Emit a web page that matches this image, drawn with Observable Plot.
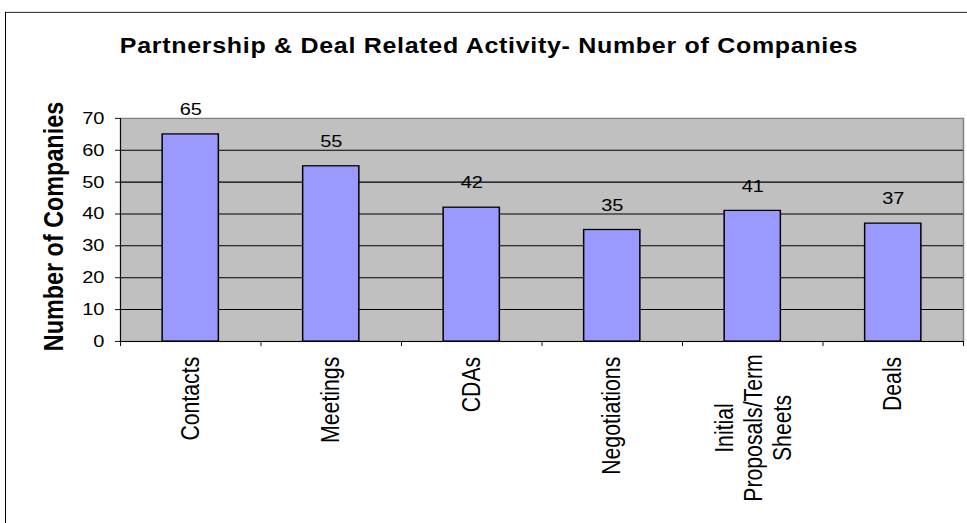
<!DOCTYPE html>
<html>
<head>
<meta charset="utf-8">
<script src="https://cdn.jsdelivr.net/npm/d3@7"></script>
<script src="https://cdn.jsdelivr.net/npm/@observablehq/plot@0.6"></script>
<style>
  html, body { margin: 0; padding: 0; background: #fff; overflow: hidden; }
  #wrap { position: absolute; left: 0; top: 0; width: 967px; height: 616px; transform: scaleY(0.85); transform-origin: 0 0; }
  #border { position: absolute; left: 5px; top: 14px; width: 1000px; height: 700px; border-left: 1px solid #000; border-top: 1.3px solid #000; box-sizing: border-box; }
  #title { position: absolute; left: 0; top: 38px; width: 978px; text-align: center; font: bold 25px "Liberation Sans", Arial, sans-serif; letter-spacing: 0.7px; line-height: 30px; color: #000; }
  #chart { position: absolute; left: 0; top: 100px; }
</style>
</head>
<body>
<div id="wrap">
  <div id="border"></div>
  <div id="title">Partnership &amp; Deal Related Activity- Number of Companies</div>
  <div id="chart"></div>
</div>
<script>
const categories = ["Contacts", "Meetings", "CDAs", "Negotiations", "Initial\nProposals/Term\nSheets", "Deals"];
const values = [65, 55, 42, 35, 41, 37];
const yTicks = [0, 10, 20, 30, 40, 50, 60, 70];
const yTitle = "Number of Companies";

const data = categories.map((c, i) => ({ i, category: c, value: values[i] }));

const labelFont = "25px 'Liberation Sans', Arial, sans-serif";
const ctx = document.createElement("canvas").getContext("2d");
ctx.font = labelFont;
const maxLineWidth = c => Math.max(...c.split("\n").map(s => ctx.measureText(s).width));
const single = data.filter(d => !d.category.includes("\n"));
const multi = data.filter(d => d.category.includes("\n"));
const labelGap = 18;

const marks = [
  Plot.frame({ fill: "#c0c0c0", stroke: "#808080", strokeWidth: 1.5 }),
  Plot.ruleY(yTicks.filter(t => t > 0 && t < 70), { stroke: "#000", strokeWidth: 1.2 }),
  Plot.rectY(data, { x1: d => d.i + 0.3, x2: d => d.i + 0.7, y1: 0, y2: "value", fill: "#9999ff", stroke: "#000", strokeWidth: 1.5 }),
  Plot.text(data, { x: d => d.i + 0.5, y: "value", text: d => String(d.value), dy: -29, fontSize: 20, fill: "#000" }),
  Plot.ruleX([0], { stroke: "#000", strokeWidth: 1 }),
  Plot.ruleY([0], { stroke: "#000", strokeWidth: 1.3 }),
  Plot.axisY({ ticks: yTicks, tickSize: 5, tickPadding: 11, fontSize: 20, stroke: "#000", fill: "#000", label: null }),
  Plot.axisX({ ticks: d3.range(categories.length + 1), tickFormat: () => "", tickSize: 6, stroke: "#000", label: null }),
  Plot.text(single, { x: d => d.i + 0.5, y: 0, text: "category", rotate: -90, textAnchor: "end", dy: labelGap, fontSize: 25, fill: "#000" }),
  ...multi.map(d => Plot.text([d], { x: e => e.i + 0.5, y: 0, text: "category", rotate: -90, textAnchor: "middle", lineHeight: 1.15, dy: labelGap - 3 + maxLineWidth(d.category) / 2, fontSize: 25, fill: "#000" })),
  Plot.text([yTitle], { frameAnchor: "left", textAnchor: "middle", lineAnchor: "middle", dx: -66, dy: -4, rotate: -90, fontSize: 27.5, fontWeight: "bold", fill: "#000" })
];

const chart = Plot.plot({
  width: 967,
  height: 515,
  marginLeft: 120,
  marginRight: 4,
  marginTop: 38.8,
  marginBottom: 213.8,
  x: { domain: [0, categories.length], axis: null },
  y: { domain: [0, 70], axis: null },
  style: { fontFamily: "'Liberation Sans', Arial, sans-serif", fontSize: "20px", color: "#000", background: "transparent", overflow: "visible" },
  marks
});
document.getElementById("chart").appendChild(chart);
</script>
</body>
</html>
